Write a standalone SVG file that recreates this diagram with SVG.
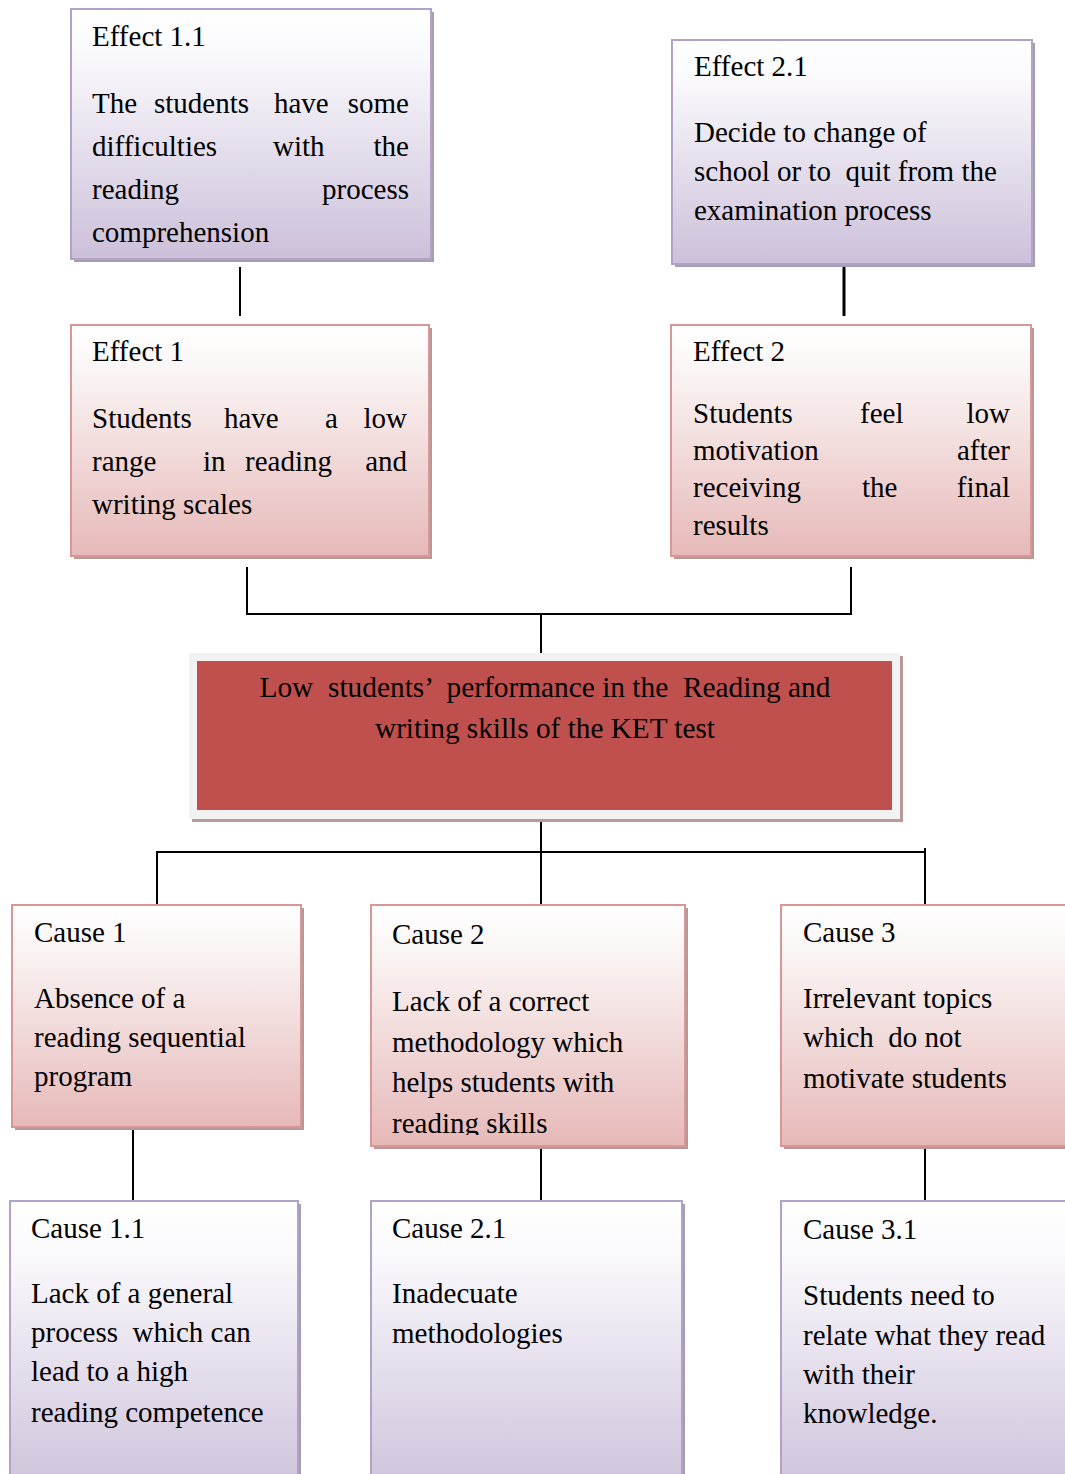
<svg xmlns="http://www.w3.org/2000/svg" width="1065" height="1474" viewBox="0 0 1065 1474">
<style>
text{font-family:"Liberation Serif","Times New Roman",serif;font-size:29px;fill:#000}
.pb{fill:url(#gp);stroke:#b3a2c7;stroke-width:2}
.kb{fill:url(#gk);stroke:#d99694;stroke-width:2}
.ps{fill:#a69db3}
.ks{fill:#b59898}
.ln{stroke:#000;stroke-width:2;fill:none}
.e{text-anchor:end}
</style>
<defs>
<linearGradient id="gp" x1="0" y1="0" x2="0" y2="1">
<stop offset="0" stop-color="#ffffff"/><stop offset="0.18" stop-color="#faf9fc"/><stop offset="1" stop-color="#ccc0da"/>
</linearGradient>
<linearGradient id="gk" x1="0" y1="0" x2="0" y2="1">
<stop offset="0" stop-color="#ffffff"/><stop offset="0.18" stop-color="#fbf6f6"/><stop offset="1" stop-color="#e6b9b8"/>
</linearGradient>
<clipPath id="c2clip"><rect x="371" y="905" width="314" height="230"/></clipPath>
</defs>
<rect width="1065" height="1474" fill="#fff"/>

<g id="connectors">
<line class="ln" x1="240" y1="267" x2="240" y2="316"/>
<line class="ln" x1="844" y1="267" x2="844" y2="316" style="stroke-width:3"/>
<polyline class="ln" points="247,567 247,614 851,614 851,567"/>
<line class="ln" x1="541" y1="614" x2="541" y2="661"/>
<line class="ln" x1="541" y1="818" x2="541" y2="910"/>
<polyline class="ln" points="157,910 157,852 925,852"/>
<line class="ln" x1="925" y1="848" x2="925" y2="905"/>
<line class="ln" x1="133" y1="1127" x2="133" y2="1201"/>
<line class="ln" x1="541" y1="1146" x2="541" y2="1201"/>
<line class="ln" x1="925" y1="1146" x2="925" y2="1201"/>
</g>

<g id="effect-1-1">
<rect class="ps" x="74" y="12" width="360" height="250"/>
<rect class="pb" x="71" y="9" width="360" height="250"/>
<text x="92" y="46">Effect 1.1</text>
<text x="92" y="113">The</text><text x="154" y="113">students</text><text x="274" y="113">have</text><text class="e" x="409" y="113">some</text>
<text x="92" y="156">difficulties</text><text x="273" y="156">with</text><text class="e" x="409" y="156">the</text>
<text x="92" y="199">reading</text><text class="e" x="409" y="199">process</text>
<text x="92" y="242">comprehension</text>
</g>

<g id="effect-2-1">
<rect class="ps" x="675" y="43" width="360" height="224"/>
<rect class="pb" x="672" y="40" width="360" height="224"/>
<text x="694" y="76">Effect 2.1</text>
<text x="694" y="142">Decide to change of</text>
<text x="694" y="181" xml:space="preserve">school or to  quit from the</text>
<text x="694" y="220">examination process</text>
</g>

<g id="effect-1">
<rect class="ks" x="74" y="328" width="358" height="231"/>
<rect class="kb" x="71" y="325" width="358" height="231"/>
<text x="92" y="361">Effect 1</text>
<text x="92" y="428">Students</text><text x="224" y="428">have</text><text x="325" y="428">a</text><text class="e" x="407" y="428">low</text>
<text x="92" y="471">range</text><text x="203" y="471">in</text><text x="245" y="471">reading</text><text class="e" x="407" y="471">and</text>
<text x="92" y="514">writing scales</text>
</g>

<g id="effect-2">
<rect class="ks" x="674" y="328" width="360" height="231"/>
<rect class="kb" x="671" y="325" width="360" height="231"/>
<text x="693" y="361">Effect 2</text>
<text x="693" y="423">Students</text><text x="860" y="423">feel</text><text class="e" x="1010" y="423">low</text>
<text x="693" y="460">motivation</text><text class="e" x="1010" y="460">after</text>
<text x="693" y="497">receiving</text><text x="862" y="497">the</text><text class="e" x="1010" y="497">final</text>
<text x="693" y="535">results</text>
</g>

<g id="problem">
<rect x="192" y="656" width="711" height="166" fill="#b89898"/>
<rect x="189" y="653" width="711" height="166" fill="#f2f2f2"/>
<rect x="197" y="661" width="695" height="149" fill="#c0504d"/>
<text x="545" y="697" text-anchor="middle" textLength="571" lengthAdjust="spacingAndGlyphs" xml:space="preserve">Low  students’  performance in the  Reading and</text>
<text x="545" y="738" text-anchor="middle" textLength="340" lengthAdjust="spacingAndGlyphs">writing skills of the KET test</text>
</g>

<g id="cause-1">
<rect class="ks" x="15" y="908" width="289" height="222"/>
<rect class="kb" x="12" y="905" width="289" height="222"/>
<text x="34" y="942">Cause 1</text>
<text x="34" y="1008">Absence of a</text>
<text x="34" y="1047">reading sequential</text>
<text x="34" y="1086">program</text>
</g>

<g id="cause-2">
<rect class="ks" x="374" y="908" width="314" height="241"/>
<rect class="kb" x="371" y="905" width="314" height="241"/>
<text x="392" y="944">Cause 2</text>
<text x="392" y="1011">Lack of a correct</text>
<text x="392" y="1052">methodology which</text>
<text x="392" y="1092">helps students with</text>
<text x="392" y="1133" clip-path="url(#c2clip)">reading skills</text>
</g>

<g id="cause-3">
<rect class="ks" x="784" y="908" width="300" height="241"/>
<rect class="kb" x="781" y="905" width="300" height="241"/>
<text x="803" y="942">Cause 3</text>
<text x="803" y="1008">Irrelevant topics</text>
<text x="803" y="1047" xml:space="preserve">which  do not</text>
<text x="803" y="1088">motivate students</text>
</g>

<g id="cause-1-1">
<rect class="ps" x="13" y="1204" width="288" height="300"/>
<rect class="pb" x="10" y="1201" width="288" height="300"/>
<text x="31" y="1238">Cause 1.1</text>
<text x="31" y="1303">Lack of a general</text>
<text x="31" y="1342" xml:space="preserve">process  which can</text>
<text x="31" y="1381">lead to a high</text>
<text x="31" y="1422">reading competence</text>
</g>

<g id="cause-2-1">
<rect class="ps" x="374" y="1204" width="311" height="300"/>
<rect class="pb" x="371" y="1201" width="311" height="300"/>
<text x="392" y="1238">Cause 2.1</text>
<text x="392" y="1303">Inadecuate</text>
<text x="392" y="1343">methodologies</text>
</g>

<g id="cause-3-1">
<rect class="ps" x="784" y="1204" width="300" height="300"/>
<rect class="pb" x="781" y="1201" width="300" height="300"/>
<text x="803" y="1239">Cause 3.1</text>
<text x="803" y="1305">Students need to</text>
<text x="803" y="1345">relate what they read</text>
<text x="803" y="1384">with their</text>
<text x="803" y="1423">knowledge.</text>
</g>
</svg>
